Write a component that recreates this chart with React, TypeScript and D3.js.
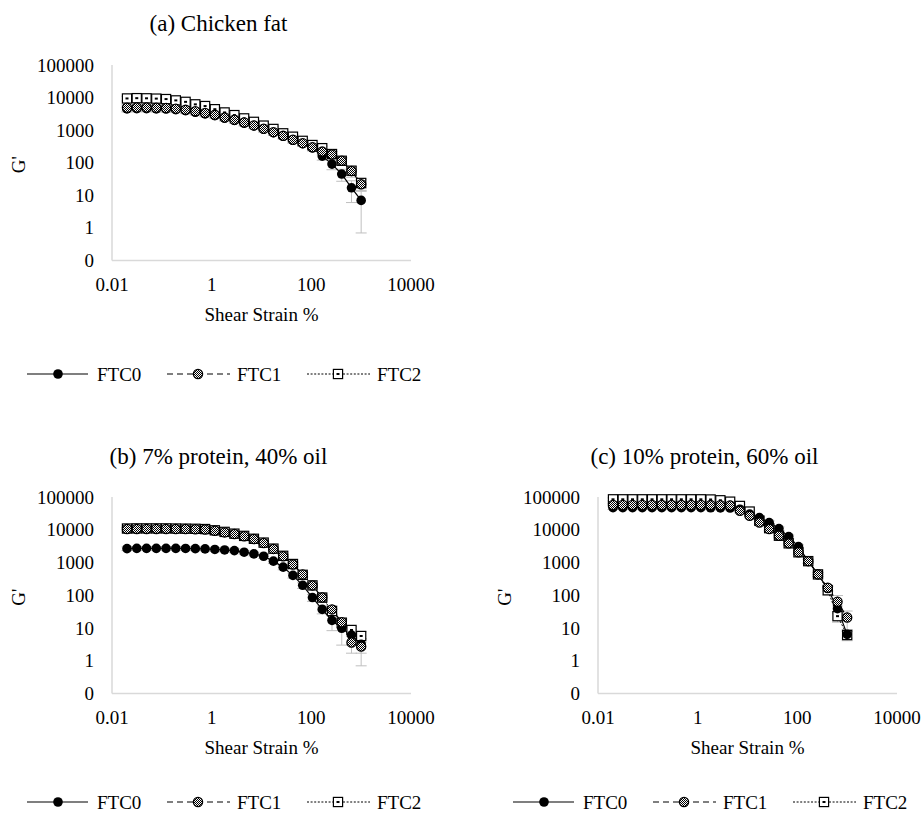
import * as d3 from 'd3';

// shear strain (%) of the amplitude sweep, shared by every panel
const strain = [
  0.02, 0.0314, 0.0493, 0.0774, 0.1215, 0.1907, 0.2994, 0.47, 0.738, 1.159, 1.819, 2.856, 4.483,
  7.04, 11.05, 17.35, 27.23, 42.75, 67.1, 105.4, 165.4, 259.7, 407.7, 640, 1000,
];

const seriesNames = ['FTC0', 'FTC1', 'FTC2'];
const xTicks = [0.01, 1, 100, 10000];
const yTicks = [0.1, 1, 10, 100, 1000, 10000, 100000];
const yTickLabels = ['0', '1', '10', '100', '1000', '10000', '100000'];

// (a) chicken fat
const aFTC0 = [4500, 4550, 4550, 4500, 4450, 4250, 3950, 3550, 3150, 2800, 2350, 2000, 1650, 1350, 1070, 840, 650, 490, 385, 285, 160, 91, 45, 17, 7];
const aFTC1 = [4900, 4950, 4950, 4900, 4800, 4550, 4200, 3800, 3350, 2950, 2450, 2080, 1720, 1400, 1100, 870, 670, 510, 400, 300, 220, 180, 115, 56, 22];
const aFTC2 = [9400, 9600, 9500, 9300, 9000, 8200, 7400, 6200, 5500, 4400, 3500, 2900, 2300, 1800, 1380, 1090, 800, 630, 470, 350, 280, 185, 115, 57, 24];
const aErr0 = [900, 900, 900, 900, 850, 800, 750, 650, 600, 500, 420, 350, 300, 240, 190, 150, 115, 90, 70, 55, 40, 30, 18, 11, 6.3];
const aErr1 = [1100, 1100, 1100, 1050, 1000, 950, 900, 800, 700, 600, 500, 420, 350, 280, 220, 170, 130, 100, 80, 60, 45, 40, 30, 20, 8];
const aErr2 = [1500, 1500, 1500, 1450, 1400, 1300, 1200, 1000, 900, 700, 560, 450, 360, 280, 220, 170, 130, 100, 75, 55, 45, 35, 25, 15, 8];

// (b) 7% protein, 40% oil
const bFTC0 = [2650, 2700, 2700, 2700, 2700, 2700, 2680, 2650, 2600, 2500, 2420, 2310, 2060, 1830, 1550, 1100, 720, 404, 201, 85, 37, 17, 9.8, 6.1, 3.2];
const bFTC1 = [10500, 10600, 10600, 10600, 10600, 10500, 10500, 10400, 10200, 9300, 8300, 7400, 6300, 5200, 3950, 2600, 1550, 870, 430, 200, 85, 37, 15, 3.6, 2.7];
const bFTC2 = [10900, 11000, 11000, 11000, 11000, 10900, 10800, 10700, 10500, 9600, 8600, 7600, 6500, 5300, 4050, 2650, 1600, 900, 420, 200, 85, 33, 14.5, 8.7, 5.7];
const bErr0 = [350, 350, 350, 350, 350, 350, 350, 340, 330, 320, 310, 300, 280, 250, 220, 170, 120, 70, 40, 20, 10, 8.7, 6.8, 3, 1.5];
const bErr1 = [1200, 1200, 1200, 1200, 1200, 1200, 1200, 1150, 1100, 1000, 900, 800, 700, 600, 450, 320, 200, 120, 70, 35, 18, 10, 5, 1.9, 2];
const bErr2 = [1000, 1000, 1000, 1000, 1000, 1000, 1000, 1000, 950, 900, 800, 700, 600, 500, 400, 280, 180, 110, 60, 30, 15, 7, 4, 2.5, 2];

// (c) 10% protein, 60% oil
const cFTC0 = [47400, 47400, 47400, 47400, 47400, 47400, 47400, 47400, 47400, 47400, 47000, 46500, 46000, 42300, 29900, 23600, 16600, 10900, 6150, 3050, 1100, 433, 160, 39, 6.4];
const cFTC1 = [57000, 57000, 57000, 57000, 57000, 57000, 57000, 57000, 57000, 57000, 56500, 56000, 55000, 37700, 26600, 16600, 10500, 6580, 3850, 2050, 1100, 433, 170, 63, 21];
const cFTC2 = [85000, 85000, 85000, 85000, 85000, 85000, 85000, 85000, 85000, 85000, 84000, 79400, 72000, 53300, 35900, 18700, 11200, 6580, 3850, 2050, 1100, 433, 142, 23, 6.1];
const cErr0 = [6000, 6000, 6000, 6000, 6000, 6000, 6000, 6000, 6000, 6000, 6000, 6000, 6000, 5500, 4000, 3000, 2000, 1300, 800, 400, 150, 60, 25, 8, 1.5];
const cErr1 = [7000, 7000, 7000, 7000, 7000, 7000, 7000, 7000, 7000, 7000, 7000, 7000, 7000, 5000, 3500, 2200, 1400, 900, 500, 280, 150, 70, 35, 35, 12];
const cErr2 = [9000, 9000, 9000, 9000, 9000, 9000, 9000, 9000, 9000, 9000, 9000, 8500, 8000, 6500, 4500, 2500, 1500, 900, 500, 280, 150, 60, 40, 8, 2];

const FONT = '"Liberation Serif", "DejaVu Serif", serif';

interface PanelProps {
  title: string;
  values: number[][];
  errors: number[][];
  xRange: [number, number];
  yRange: [number, number];
  titleY: number;
  legendY: number;
}

const Marker = ({ kind, x, y }: { kind: number; x: number; y: number }) => {
  if (kind === 0) return <circle cx={x} cy={y} r={4.8} fill="#000" />;
  if (kind === 1)
    return <circle cx={x} cy={y} r={4.6} fill="url(#chk)" stroke="#000" strokeWidth={1.3} />;
  return (
    <g>
      <rect x={x - 4.6} y={y - 4.6} width={9.2} height={9.2} fill="#fff" stroke="#000" strokeWidth={1.2} />
      <rect x={x - 1.5} y={y - 1} width={3} height={2} fill="#000" />
    </g>
  );
};

const dashes = ['none', '6,4', '2,1.6'];

const Panel = ({ title, values, errors, xRange, yRange, titleY, legendY }: PanelProps) => {
  const x = d3.scaleLog().domain([0.01, 10000]).range(xRange);
  const y = d3.scaleLog().domain([0.1, 100000]).range(yRange);
  const left = xRange[0];
  const right = xRange[1];
  const mid = (left + right) / 2;
  const line = d3
    .line<number>()
    .x((_d, i) => x(strain[i]))
    .y((d) => y(d));

  const legendItems = [
    { l0: -85, l1: -24, m: -54, t: -15 },
    { l0: 55, l1: 118, m: 86, t: 125 },
    { l0: 195, l1: 258, m: 226, t: 265 },
  ];
  const drawOrder = [2, 0, 1];

  return (
    <g>
      <text x={mid - 43} y={titleY} textAnchor="middle" fontSize={23}>
        {title}
      </text>

      {/* axes */}
      <line x1={left} x2={left} y1={yRange[1]} y2={yRange[0]} stroke="#d9d9d9" strokeWidth={1.5} />
      <line x1={left} x2={right} y1={yRange[0]} y2={yRange[0]} stroke="#d9d9d9" strokeWidth={1.5} />

      {yTicks.map((t, i) => (
        <text key={t} x={left - 18} y={y(t) + 6.5} textAnchor="end" fontSize={19}>
          {yTickLabels[i]}
        </text>
      ))}
      {xTicks.map((t) => (
        <text key={t} x={x(t)} y={yRange[0] + 30.5} textAnchor="middle" fontSize={19}>
          {t}
        </text>
      ))}
      <text x={mid} y={yRange[0] + 60.5} textAnchor="middle" fontSize={19}>
        Shear Strain %
      </text>
      <text
        transform={`translate(${left - 87},${(yRange[0] + yRange[1]) / 2 + 2}) rotate(-90)`}
        textAnchor="middle"
        fontSize={19}
      >
        G'
      </text>

      {/* error bars */}
      {values.map((s, k) =>
        s.map((v, i) => {
          const e = errors[k][i];
          const px = x(strain[i]);
          const lo = y(Math.max(v - e, 0.1));
          const hi = y(v + e);
          return (
            <g key={`e${k}-${i}`} stroke="#bfbfbf" strokeWidth={1}>
              <line x1={px} x2={px} y1={lo} y2={hi} />
              <line x1={px - 5.5} x2={px + 5.5} y1={lo} y2={lo} />
              <line x1={px - 5.5} x2={px + 5.5} y1={hi} y2={hi} />
            </g>
          );
        })
      )}

      {/* lines */}
      {values.map((s, k) => (
        <path
          key={`l${k}`}
          d={line(s) ?? ''}
          fill="none"
          stroke="#000"
          strokeWidth={k === 2 ? 1 : 1.2}
          strokeDasharray={dashes[k]}
        />
      ))}

      {/* markers */}
      {drawOrder.map((k) =>
        values[k].map((v, i) => <Marker key={`m${k}-${i}`} kind={k} x={x(strain[i])} y={y(v)} />)
      )}

      {/* legend */}
      {legendItems.map((it, k) => (
        <g key={`lg${k}`}>
          <line
            x1={left + it.l0}
            x2={left + it.l1}
            y1={legendY}
            y2={legendY}
            stroke="#000"
            strokeWidth={k === 2 ? 1 : 1.2}
            strokeDasharray={dashes[k]}
          />
          <Marker kind={k} x={left + it.m} y={legendY} />
          <text x={left + it.t} y={legendY + 6.5} fontSize={19}>
            {seriesNames[k]}
          </text>
        </g>
      ))}
    </g>
  );
};

export default function App() {
  return (
    <svg
      width={922}
      height={814}
      style={{ position: 'absolute', left: 0, top: 0, background: '#fff', fontFamily: FONT }}
    >
      <defs>
        <pattern id="chk" width={2} height={2} patternUnits="userSpaceOnUse">
          <rect width={2} height={2} fill="#fff" />
          <rect width={1} height={1} fill="#000" />
          <rect x={1} y={1} width={1} height={1} fill="#000" />
        </pattern>
      </defs>
      <rect width={922} height={814} fill="#fff" />
      <Panel
        title="(a) Chicken fat"
        values={[aFTC0, aFTC1, aFTC2]}
        errors={[aErr0, aErr1, aErr2]}
        xRange={[112, 411]}
        yRange={[260.5, 65]}
        titleY={31}
        legendY={374}
      />
      <Panel
        title="(b) 7% protein, 40% oil"
        values={[bFTC0, bFTC1, bFTC2]}
        errors={[bErr0, bErr1, bErr2]}
        xRange={[112, 411]}
        yRange={[693.5, 497]}
        titleY={464}
        legendY={802}
      />
      <Panel
        title="(c) 10% protein, 60% oil"
        values={[cFTC0, cFTC1, cFTC2]}
        errors={[cErr0, cErr1, cErr2]}
        xRange={[598, 897]}
        yRange={[693.5, 497]}
        titleY={464}
        legendY={802}
      />
    </svg>
  );
}
